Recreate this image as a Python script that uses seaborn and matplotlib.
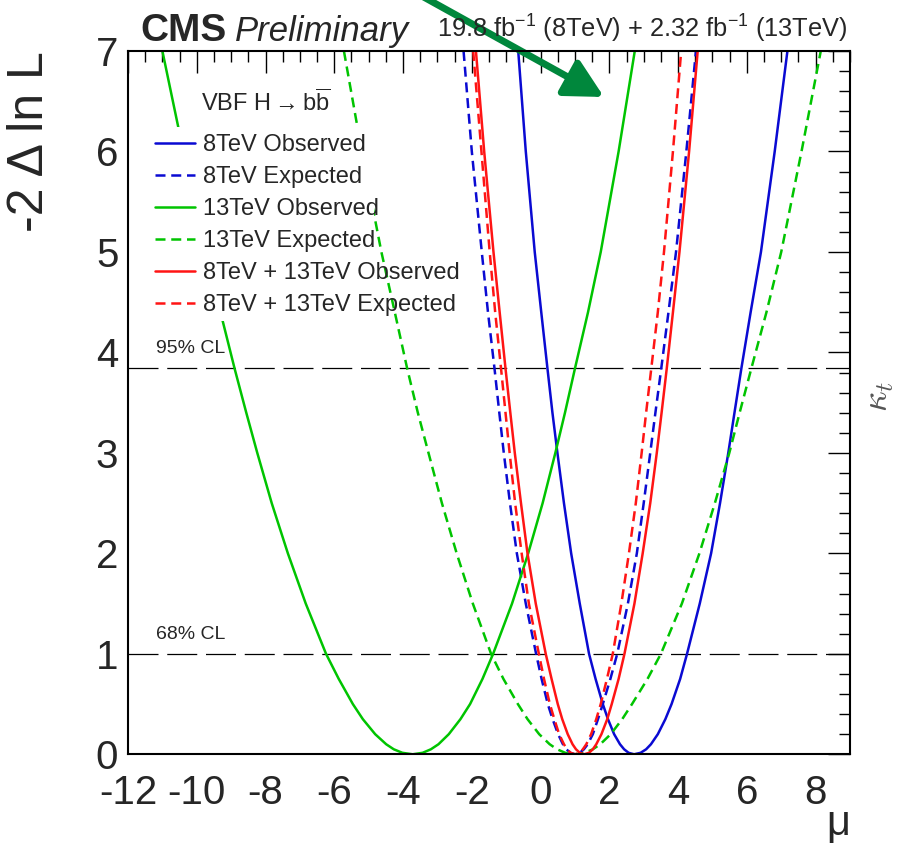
import matplotlib
matplotlib.use("Agg")
import matplotlib.pyplot as plt
from matplotlib.lines import Line2D
from matplotlib.patches import Rectangle
from matplotlib.ticker import MultipleLocator
from matplotlib.transforms import ScaledTranslation
import pandas as pd
import seaborn as sns

# ---- likelihood scans: -2 Delta ln L versus signal strength mu ----
# every scan is tabulated at the same -2 Delta ln L levels (left branch, minimum, right branch)
nll_grid = [7, 6, 5, 4.4, 3.84, 3.4, 3, 2.5, 2, 1.5, 1, 0.75, 0.5, 0.35, 0.2, 0.1, 0.05, 0.015,
            0,
            0.015, 0.05, 0.1, 0.2, 0.35, 0.5, 0.75, 1, 1.5, 2, 2.5, 3, 3.4, 3.84, 4.4, 5, 6, 7]

mu_8tev_obs = [-0.65, -0.43, -0.17, 0.02, 0.20, 0.345, 0.49, 0.68, 0.89, 1.14, 1.41, 1.60, 1.81, 1.96, 2.14, 2.31, 2.43, 2.56,
               2.72,
               2.91, 3.07, 3.21, 3.41, 3.63, 3.81, 4.06, 4.26, 4.63, 4.96, 5.22, 5.46, 5.64, 5.84, 6.11, 6.41, 6.81, 7.18]

mu_8tev_exp = [-2.24, -2.00, -1.71, -1.53, -1.34, -1.20, -1.07, -0.89, -0.69, -0.43, -0.13, 0.03, 0.21, 0.35, 0.51, 0.65, 0.75, 0.865,
               1.00,
               1.14, 1.26, 1.37, 1.52, 1.67, 1.81, 2.03, 2.23, 2.54, 2.80, 3.00, 3.19, 3.34, 3.51, 3.72, 3.94, 4.24, 4.52]

mu_13tev_obs = [-11.00, -10.39, -9.74, -9.31, -8.90, -8.56, -8.24, -7.82, -7.35, -6.83, -6.24, -5.87, -5.46, -5.17, -4.81, -4.49, -4.27, -4.02,
                -3.72,
                -3.43, -3.19, -2.97, -2.67, -2.33, -2.05, -1.69, -1.38, -0.83, -0.36, 0.06, 0.43, 0.71, 1.00, 1.38, 1.75, 2.27, 2.74]

mu_13tev_exp = [-5.72, -5.20, -4.63, -4.24, -3.88, -3.57, -3.26, -2.87, -2.44, -1.97, -1.44, -1.08, -0.66, -0.38, -0.04, 0.265, 0.48, 0.715,
                1.00,
                1.285, 1.52, 1.735, 2.04, 2.375, 2.66, 3.11, 3.50, 4.11, 4.62, 5.07, 5.49, 5.79, 6.13, 6.57, 7.00, 7.59, 8.15]

mu_comb_obs = [-1.88, -1.64, -1.37, -1.19, -1.02, -0.88, -0.75, -0.57, -0.38, -0.14, 0.15, 0.32, 0.50, 0.63, 0.79, 0.93, 1.03, 1.14,
               1.27,
               1.41, 1.52, 1.62, 1.77, 1.94, 2.07, 2.27, 2.44, 2.73, 2.97, 3.19, 3.38, 3.52, 3.67, 3.85, 4.04, 4.32, 4.57]

mu_comb_exp = [-1.96, -1.72, -1.48, -1.32, -1.15, -1.02, -0.90, -0.74, -0.55, -0.34, -0.05, 0.10, 0.27, 0.40, 0.54, 0.68, 0.77, 0.875,
               1.00,
               1.13, 1.23, 1.33, 1.47, 1.62, 1.75, 1.93, 2.10, 2.35, 2.57, 2.77, 2.94, 3.07, 3.22, 3.41, 3.59, 3.85, 4.09]

curve_labels = ["8TeV Observed", "8TeV Expected", "13TeV Observed",
                "13TeV Expected", "8TeV + 13TeV Observed", "8TeV + 13TeV Expected"]
cl_levels = [3.84, 1.0]
cl_labels = ["95% CL", "68% CL"]

# ---- styling ----
BLUE = "#0a0ad2"
GREEN = "#00c400"
RED = "#ff1414"
curve_colors = [BLUE, BLUE, GREEN, GREEN, RED, RED]
DASH = (4, 2.3)
curve_dashes = ["", DASH, "", DASH, "", DASH]

sns.set_style("white")
plt.rcParams["font.family"] = ["Liberation Sans", "DejaVu Sans"]
plt.rcParams["mathtext.fontset"] = "custom"
plt.rcParams["mathtext.rm"] = "Liberation Sans"
plt.rcParams["mathtext.it"] = "Liberation Sans:italic"
plt.rcParams["mathtext.bf"] = "Liberation Sans:bold"
plt.rcParams["axes.unicode_minus"] = False

frames = []
for lab, mu in zip(curve_labels,
                   [mu_8tev_obs, mu_8tev_exp, mu_13tev_obs, mu_13tev_exp, mu_comb_obs, mu_comb_exp]):
    frames.append(pd.DataFrame({"mu": mu, "dnll": nll_grid, "scan": lab}))
scans = pd.concat(frames, ignore_index=True)

W, H = 902, 850
fig = plt.figure(figsize=(W / 100, H / 100), dpi=100)
ax = fig.add_axes([128 / W, 95.7 / H, 722 / W, 703.3 / H])

sns.lineplot(data=scans, x="mu", y="dnll", hue="scan", style="scan",
             hue_order=curve_labels, style_order=curve_labels,
             palette=dict(zip(curve_labels, curve_colors)),
             dashes=dict(zip(curve_labels, curve_dashes)),
             estimator=None, sort=False, linewidth=1.8, legend=False, ax=ax, zorder=2)

# confidence-level reference lines
for lvl, txt in zip(cl_levels, cl_labels):
    ax.axhline(lvl, color="black", lw=0.9, ls=(0, (24, 7)), zorder=1.5)
    ax.text(-11.18, lvl + 0.15, txt, fontsize=14, ha="left", va="baseline", zorder=4)

# white legend pad covering the curves behind the entries
ax.add_patch(Rectangle((-11.3, 4.31), 6.45, 1.93, facecolor="white", edgecolor="none", zorder=3))

ax.text(-9.88, 6.40, r"VBF H $\!\!\rightarrow\!\!$ b$\overline{\mathrm{b}}$", fontsize=17,
        ha="left", va="baseline", zorder=5)

handles = [Line2D([], [], color=c, lw=1.8, ls="-" if d == "" else (0, d))
           for c, d in zip(curve_colors, curve_dashes)]
leg = ax.legend(handles, curve_labels, loc="upper left", bbox_to_anchor=(0.037, 0.882),
                frameon=False, fontsize=17, handlelength=1.7, handletextpad=0.35,
                labelspacing=0.425, borderpad=0, borderaxespad=0)
leg.set_zorder(6)

ax.set_xlim(-12, 9)
ax.set_ylim(0, 7)
ax.xaxis.set_major_locator(MultipleLocator(2))
ax.xaxis.set_minor_locator(MultipleLocator(0.5))
ax.yaxis.set_major_locator(MultipleLocator(1))
ax.yaxis.set_minor_locator(MultipleLocator(0.2))
ax.tick_params(which="both", direction="in", top=True, right=True, color="black", width=1.0)
ax.tick_params(which="major", length=15.5, labelsize=29)
ax.tick_params(axis="x", which="major", pad=14)
ax.tick_params(axis="y", which="major", pad=7)
ax.tick_params(which="minor", length=7.8)
for sp in ax.spines.values():
    sp.set_linewidth(1.5)
    sp.set_color("black")
    sp.set_zorder(7)

# lift the "0" label slightly so it clears the "-12" below it
zero_label = ax.yaxis.get_major_ticks()[0].label1
zero_label.set_transform(zero_label.get_transform() + ScaledTranslation(0, 5 / 100, fig.dpi_scale_trans))

ax.set_xlabel("μ", fontsize=30, loc="right")
ax.xaxis.set_label_coords(1.0, -0.071)
ax.set_ylabel("-2 Δ ln L", fontsize=36, loc="top")
ax.yaxis.set_label_coords(-0.104, 1.0)

# header texts
fig.text(140 / W, 1 - 41 / H, "CMS", fontsize=28, fontweight="bold", ha="left", va="baseline")
fig.text(235 / W, 1 - 41 / H, "Preliminary", fontsize=25, fontstyle="italic", ha="left", va="baseline")
fig.text(847 / W, 1 - 38 / H, r"19.8 fb$^{-1}$ (8TeV) + 2.32 fb$^{-1}$ (13TeV)",
         fontsize=18.3, ha="right", va="baseline")
fig.text(878 / W, 1 - 396 / H, r"$\kappa_{t}$", fontsize=26, rotation=90, color="#555555",
         ha="center", va="center", math_fontfamily="cm")

# pointer arrow
ax.annotate("", xy=(604, H - 97), xytext=(420, H + 5), xycoords="figure pixels",
            textcoords="figure pixels", annotation_clip=False,
            arrowprops=dict(arrowstyle="-|>,head_length=0.42,head_width=0.22", lw=5,
                            color="#00873c", mutation_scale=55, shrinkA=0, shrinkB=0))

fig.savefig("out.png", dpi=100, facecolor="white")
